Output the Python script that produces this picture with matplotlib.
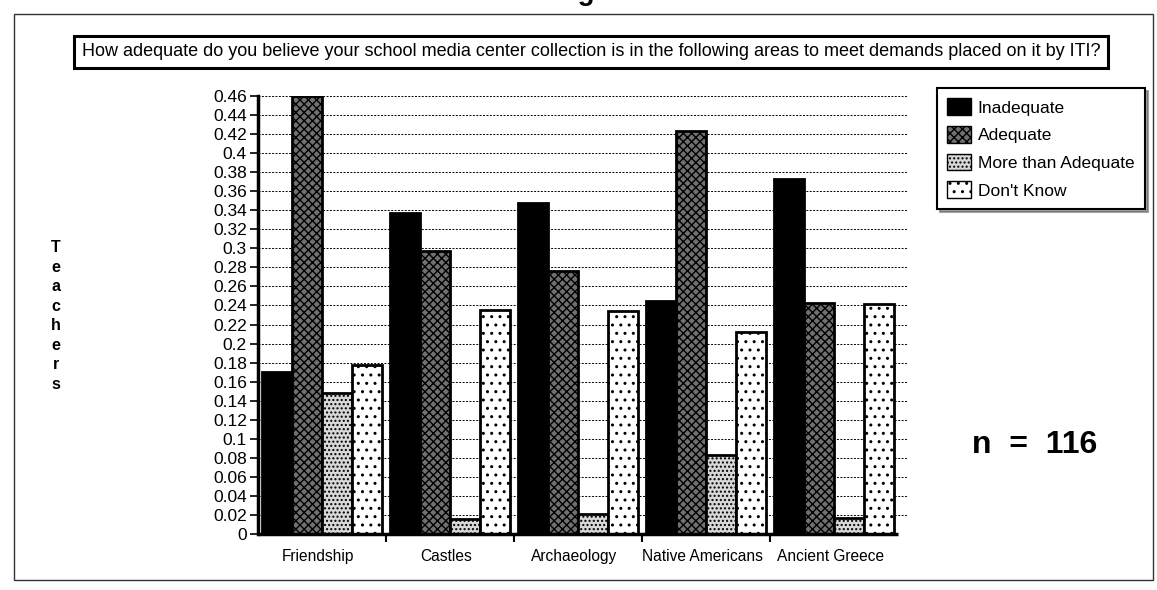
import numpy as np
import matplotlib.pyplot as plt
from matplotlib.patches import Patch, Rectangle

plt.rcParams['font.family'] = ['Liberation Sans', 'DejaVu Sans']
plt.rcParams['hatch.linewidth'] = 1.0

# ==========================================
# DATA
# ==========================================
topics = ["Friendship", "Castles", "Archaeology", "Native Americans", "Ancient Greece"]
responses = ["Inadequate", "Adequate", "More than Adequate", "Don't Know"]
inadequate = [0.170, 0.337, 0.348, 0.245, 0.373]
adequate = [0.460, 0.297, 0.276, 0.423, 0.243]
more_than = [0.148, 0.016, 0.021, 0.083, 0.017]
dont_know = [0.178, 0.235, 0.234, 0.212, 0.242]
yticks = np.round(np.arange(0, 0.461, 0.02), 2)
ytick_labels = ["0" if v == 0 else f"{v:g}" for v in yticks]

title = ("How adequate do you believe your school media center collection is "
         "in the following areas to meet demands placed on it by ITI?")

series = [inadequate, adequate, more_than, dont_know]
styles = [
    dict(facecolor='black', hatch=None),
    dict(facecolor='#707070', hatch='xxxx'),
    dict(facecolor='#d8d8d8', hatch='....'),
    dict(facecolor='white', hatch='..'),
]

# ==========================================
# FIGURE
# ==========================================
fig = plt.figure(figsize=(11.57, 5.9), dpi=100)
ax = fig.add_axes([258 / 1157, 56 / 590, 649 / 1157, 438 / 590])

bw = 0.235
x = np.arange(len(topics))
for k, (vals, st) in enumerate(zip(series, styles)):
    ax.bar(x + 0.03 + k * bw, vals, width=bw, align='edge', facecolor=st['facecolor'],
           hatch=st['hatch'], edgecolor='black', linewidth=2, zorder=3)

ax.set_xlim(0, 5.07)
ax.set_ylim(0, 0.46)
ax.set_yticks(yticks)
ax.set_yticklabels(ytick_labels, fontsize=12.5)
ax.set_xticks(x + 0.47)
ax.set_xticklabels(topics, fontsize=11.2)
ax.tick_params(axis='x', length=0, pad=11)
ax.tick_params(axis='y', length=6, width=1.2, direction='out', pad=2)
ax.set_xticks(np.arange(1, 5), minor=True)
ax.tick_params(axis='x', which='minor', length=6, width=1.5, direction='out')

ax.grid(axis='y', linestyle=(0, (2, 1.5)), color='black', linewidth=0.7, zorder=0)
for s in ['top', 'right', 'bottom']:
    ax.spines[s].set_visible(False)
ax.spines['left'].set_linewidth(2.5)
ax.hlines(0, 0, 5, color='black', linewidth=2.5, zorder=4, clip_on=False)

# axis label, one letter per line
fig.text(56 / 1157, 1 - 316 / 590, "\n".join("Teachers"), ha='center', va='center',
         fontsize=11.5, fontweight='bold', linespacing=1.38)

# title box
fig.text(82 / 1157, 1 - 52 / 590, title, ha='left', va='center', fontsize=13,
         bbox=dict(boxstyle='square,pad=0.42', facecolor='white', edgecolor='black', linewidth=2.2))

# legend
handles = [Patch(facecolor=st['facecolor'], hatch=st['hatch'], edgecolor='black', linewidth=1)
           for st in styles]
leg = fig.legend(handles, responses, loc='upper left', bbox_to_anchor=(937 / 1157, 1 - 88 / 590),
                 fontsize=12.5, frameon=True, fancybox=False, shadow=True,
                 handlelength=1.35, handleheight=1.1, handletextpad=0.4,
                 labelspacing=0.6, borderpad=0.6, borderaxespad=0)
leg.get_frame().set_edgecolor('black')
leg.get_frame().set_linewidth(1.5)

fig.text(1035 / 1157, 1 - 445 / 590, "n  =  116", ha='center', va='center',
         fontsize=23, fontweight='bold')

# cropped page heading and page frame
fig.text(0.525, 1 - 6 / 590, "Figure 6", ha='center', va='bottom', fontsize=20, fontweight='bold')
fig.add_artist(Rectangle((14 / 1157, 10 / 590), 1139 / 1157, 566 / 590,
                         transform=fig.transFigure, fill=False, edgecolor='#333333', linewidth=1))

fig.savefig("out.png", dpi=100)
